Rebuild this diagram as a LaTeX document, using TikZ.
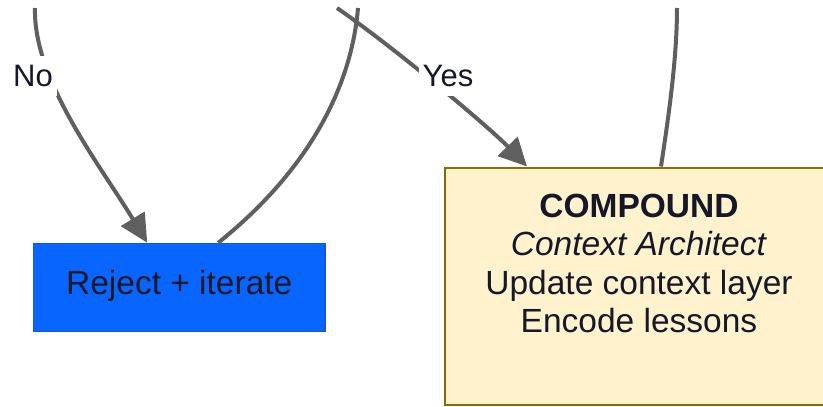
\documentclass[tikz,border=0pt]{standalone}
\usepackage{fontspec}
\setmainfont{Liberation Sans}
\usetikzlibrary{arrows.meta,calc}
\definecolor{edgec}{RGB}{95,95,95}
\definecolor{txtc}{RGB}{20,24,40}
\definecolor{bluefill}{RGB}{8,102,255}
\definecolor{blueline}{RGB}{20,90,210}
\definecolor{yelfill}{RGB}{255,242,204}
\definecolor{yelline}{RGB}{140,106,0}
\tikzset{
  edge/.style={draw=edgec, line width=4pt},
  tipped/.style={edge, -{Triangle[length=28pt,width=27pt]}},
  elabel/.style={fill=white, text=txtc, font=\fontsize{31}{36}\selectfont, inner xsep=4pt, inner ysep=9pt},
  bluebox/.style={rectangle, fill=bluefill, draw=blueline, line width=1.5pt, text=txtc,
    font=\fontsize{33.5}{38.5}\selectfont, minimum width=291.5pt, minimum height=88pt,
    inner sep=0pt, text height=24pt, text depth=11pt},
  yelbox/.style={rectangle, fill=yelfill, draw=yelline, line width=2pt,
    minimum width=388pt, minimum height=237.5pt, inner sep=0pt},
  boxtext/.style={text=txtc, font=\fontsize{33.5}{38.4}\selectfont, align=center, inner sep=0pt}
}
\begin{document}
\begin{tikzpicture}[x=1pt,y=-1pt]
\useasboundingbox (0,0) rectangle (823,407);
% nodes
\node[bluebox] (reject) at (179.25,287.5) {Reject + iterate};
\node[yelbox] (compound) at (639,286.25) {};
\node[boxtext] (ctext) at (639,263.5) {\textbf{COMPOUND}\\\textit{Context Architect}\\Update context layer\\Encode lessons};
% free ends at the top
\coordinate (notop) at (35,8);
\coordinate (looptop) at (358,8);
\coordinate (yestop) at (337,8);
\coordinate (ctop) at (677,8);
% connectors
\draw[tipped] (notop) .. controls (33,80) and (100,165) .. ([xshift=114.5pt]reject.north west);
\draw[edge] ([xshift=185.5pt]reject.north west) .. controls (315,165) and (352,80) .. (looptop);
\draw[tipped] (yestop) .. controls (395,48) and (490,128) .. ([xshift=83pt]compound.north west);
\draw[edge] ([xshift=217pt]compound.north west) .. controls (668,120) and (677,60) .. (ctop);
% edge labels
\node[elabel] (nolabel) at (33,76.3) {No};
\node[elabel] (yeslabel) at (448,76.3) {Yes};
\end{tikzpicture}
\end{document}
